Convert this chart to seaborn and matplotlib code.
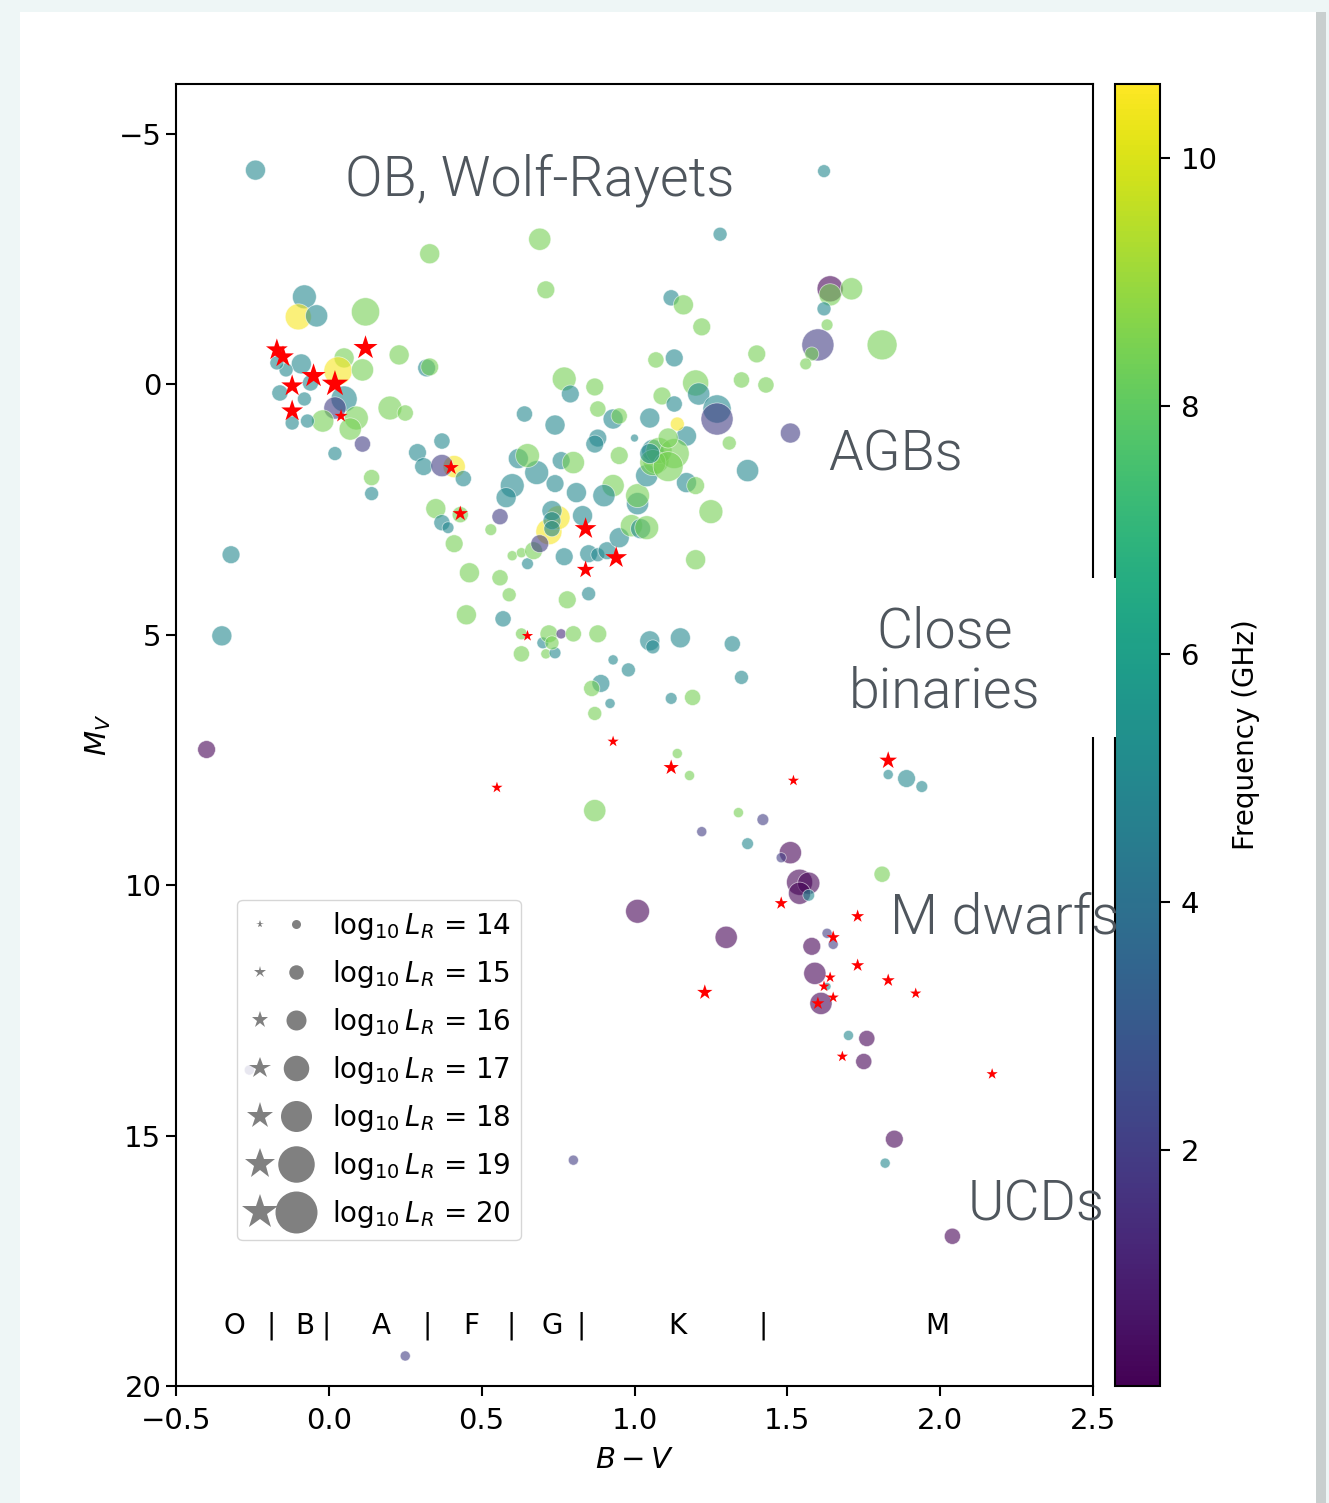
import numpy as np
import pandas as pd
import matplotlib
matplotlib.use("Agg")
import matplotlib.pyplot as plt
import seaborn as sns
from matplotlib.lines import Line2D
from matplotlib.legend_handler import HandlerTuple
from matplotlib.patches import Rectangle
from matplotlib.colors import Normalize
from matplotlib.cm import ScalarMappable

# ---------------- data (circles: radio detections coloured by frequency) ----------------
bv = [-0.24, 1.62, 1.28, 0.69, 0.33, 0.71, -0.08, -0.10, -0.04, 0.12,
      1.12, 1.16, 1.22, 1.64, 1.64, 1.71, 1.62, 1.63, 1.60, 1.58,
      1.56, 1.81, 1.40, 1.35, 1.43, 1.07, 1.13, 1.20, 1.21, 1.27,
      1.27, 1.51, 1.37, 1.25, 1.20, 1.17, 1.14, 1.31, 1.09, 1.13,
      1.05, 1.00, 0.93, 0.95, 0.77, 0.79, 0.87, 0.88, 0.64, 0.74,
      0.88, 0.87, 0.05, 0.03, 0.11, 0.23, 0.32, 0.33, -0.09, -0.14,
      -0.17, -0.16, -0.08, -0.06, 0.05, 0.02, 0.09, -0.02, 0.07, -0.12,
      -0.07, 0.20, 0.25, 0.11, 0.02, 0.37, 0.29, 0.31, 0.14, 0.14,
      -0.32, -0.35, -0.40, 0.41, 0.37, 0.44, 0.35, 0.43, 0.37, 0.39,
      0.41, 0.53, 0.56, 0.46, 0.45, 0.56, 0.59, 0.57, 0.60, 0.63,
      0.65, 0.67, 0.72, 0.75, 0.69, 0.73, 0.73, 0.73, 0.77, 0.78,
      0.85, 0.83, 0.85, 0.88, 0.91, 0.95, 0.99, 1.02, 1.04, 1.01,
      1.01, 0.93, 0.90, 0.81, 0.74, 0.68, 0.62, 0.65, 0.76, 0.80,
      0.60, 0.58, 0.95, 1.04, 1.07, 1.06, 1.17, 1.20, 1.08, 1.13,
      1.11, 1.06, 1.11, 1.05,
      0.63, 0.63, 0.70, 0.71, 0.74, 0.72, 0.73, 0.76, 0.80, 0.88,
      1.05, 1.06, 1.15, 1.32, 0.93, 0.98, 1.35, 0.89, 0.86, 0.92,
      0.87, 1.12, 1.19, 1.14, 1.18, 0.87, 1.83, 1.89, 1.94, 1.34,
      1.42, 1.22, 1.37, 1.51, 1.48, 1.81, 1.54, 1.57, 1.54, 1.57,
      1.01, 1.30, 1.63, 1.65, 1.58, 1.59, 1.63, 1.61, 1.70, 1.76,
      1.75, 1.85, 1.82, 2.04, 0.80, 0.25, -0.26]

mv = [-4.28, -4.26, -3.00, -2.90, -2.61, -1.89, -1.75, -1.35, -1.37, -1.45,
      -1.73, -1.59, -1.15, -1.91, -1.79, -1.91, -1.51, -1.19, -0.79, -0.61,
      -0.41, -0.79, -0.61, -0.09, 0.01, -0.49, -0.53, -0.03, 0.19, 0.49,
      0.69, 0.97, 1.72, 2.54, 3.50, 1.03, 0.79, 1.17, 0.23, 0.39,
      0.67, 1.07, 0.69, 0.63, -0.11, 0.19, 0.05, 0.49, 0.59, 0.81,
      1.07, 1.19, -0.53, -0.27, -0.29, -0.59, -0.33, -0.35, -0.41, -0.29,
      -0.43, 0.17, 0.29, -0.03, 0.29, 0.47, 0.67, 0.73, 0.89, 0.77,
      0.73, 0.47, 0.57, 1.19, 1.38, 1.13, 1.36, 1.64, 1.86, 2.18,
      3.40, 5.02, 7.29, 1.64, 1.62, 1.88, 2.48, 2.60, 2.76, 2.86,
      3.18, 2.90, 2.64, 3.76, 4.60, 3.86, 4.20, 4.68, 3.42, 3.36,
      3.58, 3.32, 2.94, 2.66, 3.18, 2.52, 2.72, 2.88, 3.44, 4.30,
      4.18, 2.62, 3.38, 3.40, 3.32, 3.06, 2.82, 2.88, 2.86, 2.38,
      2.22, 2.02, 2.22, 2.16, 1.98, 1.76, 1.48, 1.42, 1.52, 1.56,
      2.02, 2.26, 1.42, 1.82, 1.52, 1.32, 1.96, 2.02, 1.32, 1.38,
      1.07, 1.56, 1.64, 1.38,
      4.98, 5.38, 5.16, 5.38, 5.36, 4.98, 5.16, 4.98, 4.98, 4.98,
      5.12, 5.24, 5.06, 5.18, 5.50, 5.70, 5.85, 5.97, 6.07, 6.37,
      6.57, 6.27, 6.25, 7.37, 7.81, 8.51, 7.79, 7.87, 8.03, 8.55,
      8.69, 8.93, 9.17, 9.35, 9.45, 9.78, 9.94, 9.96, 10.16, 10.20,
      10.52, 11.04, 10.96, 11.18, 11.22, 11.76, 12.02, 12.36, 13.00, 13.06,
      13.52, 15.07, 15.55, 17.01, 15.49, 19.40, 13.69]

freq = [5, 5, 5, 8.4, 8.4, 8.4, 5, 10.5, 5, 8.4,
        5, 8.4, 8.4, 0.15, 8.4, 8.4, 5, 8.4, 2.0, 8.4,
        8.4, 8.4, 8.4, 8.4, 8.4, 8.4, 5, 8.4, 5, 5,
        2.0, 2.0, 5, 8.4, 8.4, 5, 10.5, 8.4, 8.4, 5,
        5, 5, 5, 8.4, 8.4, 5, 8.4, 8.4, 5, 5,
        5, 5, 8.4, 10.5, 8.4, 8.4, 5, 8.4, 5, 5,
        5, 5, 5, 5, 5, 2.0, 8.4, 8.4, 8.4, 5,
        5, 8.4, 8.4, 2.0, 5, 5, 5, 5, 8.4, 5,
        5, 5, 0.15, 10.5, 2.0, 5, 8.4, 8.4, 5, 5,
        8.4, 8.4, 2.0, 8.4, 8.4, 8.4, 8.4, 5, 8.4, 8.4,
        5, 8.4, 10.5, 10.5, 2.0, 5, 5, 5, 5, 8.4,
        5, 5, 5, 5, 5, 5, 8.4, 5, 8.4, 5,
        8.4, 8.4, 5, 5, 5, 5, 5, 8.4, 5, 8.4,
        5, 5, 8.4, 5, 8.4, 5, 5, 8.4, 8.4, 8.4,
        8.4, 8.4, 8.4, 5,
        8.4, 8.4, 5, 8.4, 5, 8.4, 8.4, 1.4, 8.4, 8.4,
        5, 5, 5, 5, 5, 5, 5, 5, 8.4, 5,
        8.4, 5, 8.4, 8.4, 8.4, 8.4, 5, 5, 5, 8.4,
        2.0, 2.0, 5, 0.15, 2.0, 8.4, 0.15, 0.15, 0.15, 5,
        0.15, 0.15, 2.0, 2.0, 0.15, 0.15, 5, 0.15, 5, 0.15,
        0.15, 0.15, 5, 0.15, 2.0, 2.0, 2.0]

logL = [16.0, 14.7, 14.9, 16.4, 16.0, 15.6, 16.7, 17.1, 16.4, 17.5,
        15.3, 16.0, 15.6, 17.1, 16.4, 16.4, 14.9, 14.5, 18.2, 14.9,
        14.5, 17.8, 15.6, 15.3, 15.3, 15.3, 15.6, 17.1, 16.4, 17.5,
        18.2, 16.0, 16.4, 16.7, 16.0, 16.0, 14.9, 14.9, 15.6, 15.3,
        16.0, 13.8, 16.0, 15.3, 16.7, 15.6, 15.6, 15.3, 15.3, 16.0,
        15.6, 15.6, 16.0, 17.5, 16.4, 16.0, 15.6, 15.6, 16.0, 14.9,
        14.9, 15.3, 14.9, 15.3, 17.1, 16.4, 16.7, 16.4, 16.4, 14.9,
        14.9, 16.7, 15.3, 15.3, 14.9, 15.3, 15.6, 15.6, 15.3, 14.9,
        15.6, 16.0, 15.6, 16.4, 16.4, 15.3, 16.0, 15.3, 15.3, 14.5,
        15.6, 14.5, 15.3, 16.0, 16.0, 15.3, 14.9, 15.3, 14.2, 14.2,
        14.5, 15.6, 17.1, 16.7, 15.6, 16.0, 15.6, 15.3, 15.6, 15.6,
        14.9, 16.0, 15.6, 14.9, 15.6, 16.0, 16.4, 16.0, 16.7, 16.4,
        16.7, 16.4, 16.4, 16.0, 15.6, 16.7, 16.0, 16.7, 15.6, 16.4,
        16.7, 16.0, 15.6, 16.4, 17.1, 16.4, 16.0, 15.6, 17.1, 17.8,
        16.0, 17.1, 17.8, 16.0,
        14.5, 15.3, 14.5, 14.2, 14.5, 15.6, 14.9, 14.2, 15.3, 15.6,
        16.0, 14.9, 16.0, 15.3, 14.2, 14.9, 14.9, 15.6, 15.3, 14.2,
        14.9, 14.5, 15.3, 14.2, 14.2, 16.4, 14.2, 15.6, 14.5, 14.2,
        14.5, 14.2, 14.5, 16.4, 14.2, 15.3, 17.1, 16.4, 16.4, 14.5,
        16.7, 16.4, 14.2, 14.2, 15.6, 16.4, 13.8, 16.4, 14.2, 15.3,
        15.3, 15.6, 14.2, 15.3, 14.2, 14.2, 14.2]

# ---------------- data (red stars) ----------------
star_bv = [-0.17, -0.15, -0.05, -0.12, 0.02, 0.12, -0.12, 0.04, 0.40, 0.43,
           0.84, 0.84, 0.94, 0.65, 0.93, 0.55, 1.12, 1.52, 1.83, 1.48,
           1.73, 1.65, 1.73, 1.64, 1.62, 1.83, 1.92, 1.65, 1.23, 1.60,
           1.68, 2.17]
star_mv = [-0.69, -0.55, -0.17, 0.03, -0.01, -0.73, 0.53, 0.63, 1.66, 2.58,
           2.88, 3.70, 3.46, 5.02, 7.13, 8.05, 7.65, 7.91, 7.51, 10.36,
           10.62, 11.04, 11.60, 11.84, 12.02, 11.90, 12.16, 12.24, 12.14, 12.36,
           13.42, 13.77]
star_logL = [17.1, 17.1, 17.6, 17.1, 18.1, 17.6, 17.1, 15.2, 15.7, 15.7,
             17.1, 16.2, 17.1, 14.8, 14.8, 14.8, 15.7, 14.8, 16.2, 15.2,
             15.2, 15.2, 15.2, 14.8, 14.8, 15.2, 14.8, 14.8, 15.7, 15.2,
             14.8, 14.8]

legend_levels = [14, 15, 16, 17, 18, 19, 20]

spec_labels = ["O", "|", "B", "|", "A", "|", "F", "|", "G", "|", "K", "|", "M"]
spec_x = [-0.31, -0.19, -0.08, -0.01, 0.17, 0.32, 0.465, 0.595, 0.73, 0.825, 1.14, 1.42, 1.99]

region_labels = ["OB, Wolf-Rayets", "AGBs", "Close\nbinaries", "M dwarfs", "UCDs"]

# ---------------- helpers ----------------
W, H = 1329, 1503
FMIN, FMAX = 0.1, 10.6
STAR_SCALE = 0.88


def diam_px(L):
    return 9 + 5.5 * (np.asarray(L, dtype=float) - 14)


def circle_s(L):
    return (diam_px(L) * 0.72) ** 2


def star_s(L):
    return (STAR_SCALE * diam_px(L) * 0.72) ** 2


def fx(px):
    return px / W


def fy(py):
    return 1 - py / H


df = pd.DataFrame({"bv": bv, "mv": mv, "freq": freq, "logL": logL})
df["s"] = circle_s(df["logL"])
sdf = pd.DataFrame({"bv": star_bv, "mv": star_mv, "logL": star_logL})
sdf["s"] = star_s(sdf["logL"])

smin, smax = 1.0, float(circle_s(21))
norm = Normalize(FMIN, FMAX)

plt.rcParams["font.family"] = "DejaVu Sans"
fig = plt.figure(figsize=(W / 100, H / 100), dpi=100, facecolor="#eef6f6")

# slide card background
fig.add_artist(Rectangle((fx(1316), 0), fx(10), fy(12), transform=fig.transFigure,
                         facecolor="#c9cfcf", edgecolor="none", zorder=-11))
fig.add_artist(Rectangle((fx(20), 0), fx(1296), fy(12), transform=fig.transFigure,
                         facecolor="white", edgecolor="none", zorder=-10))

ax = fig.add_axes([fx(176), fy(1386), fx(1093 - 176), (1386 - 84) / H])
cax = fig.add_axes([fx(1115), fy(1386), fx(45), (1386 - 84) / H])

sns.scatterplot(data=df, x="bv", y="mv", hue="freq", palette="viridis", hue_norm=norm,
                size="s", sizes=(smin, smax), size_norm=(smin, smax),
                alpha=0.6, legend=False, ax=ax, zorder=2)
sns.scatterplot(data=sdf, x="bv", y="mv", size="s", sizes=(smin, smax), size_norm=(smin, smax),
                marker="*", color="red", linewidth=0, legend=False, ax=ax, zorder=3)

ax.set_xlim(-0.5, 2.5)
ax.set_ylim(20, -6)
ax.set_xticks(np.arange(-0.5, 2.51, 0.5))
ax.set_yticks([-5, 0, 5, 10, 15, 20])
ax.tick_params(labelsize=21, length=7, width=1.5)
ax.tick_params(axis="x", pad=8)
for sp in ax.spines.values():
    sp.set_linewidth(1.5)
ax.set_xlabel(r"$B-V$", fontsize=21, labelpad=8)
ax.set_ylabel(r"$M_V$", fontsize=21)

for lbl, x in zip(spec_labels, spec_x):
    ax.text(x, 18.8, lbl, ha="center", va="center", fontsize=20)

# colorbar
cb = fig.colorbar(ScalarMappable(norm=norm, cmap="viridis"), cax=cax)
cb.set_ticks([2, 4, 6, 8, 10])
cb.ax.tick_params(labelsize=21, length=7, width=1.5, pad=8)
cb.outline.set_linewidth(1.5)
cb.set_label("Frequency (GHz)", fontsize=20, labelpad=10)

# legend
handles = []
labels = []
for L in legend_levels:
    d = float(diam_px(L)) * 0.72
    h_star = Line2D([], [], marker="*", color="gray", linestyle="none",
                    markersize=STAR_SCALE * d, markeredgewidth=0)
    h_circ = Line2D([], [], marker="o", color="gray", linestyle="none", markersize=d,
                    markeredgewidth=0)
    handles.append((h_star, h_circ))
    labels.append(r"$\log_{10}L_R$ = %d" % L)
leg = ax.legend(handles, labels, handler_map={tuple: HandlerTuple(ndivide=None)},
                loc="lower left", bbox_to_anchor=(0.0665, 0.112), borderaxespad=0,
                fontsize=20, handlelength=2.23, handletextpad=0.83, labelspacing=0.58,
                borderpad=0.36, framealpha=0.8)
leg.set_zorder(10)

# white box behind "Close binaries"
fig.add_artist(Rectangle((fx(835), fy(737)), fx(1116 - 835), (737 - 578) / H,
                         transform=fig.transFigure, facecolor="white", edgecolor="none", zorder=5))

tcol = "#4f565d"
tkw = dict(fontsize=40, color=tcol, family=["Roboto", "DejaVu Sans"], weight=300, zorder=6)
fig.text(fx(540), fy(180), region_labels[0], ha="center", va="center", **tkw)
fig.text(fx(828), fy(455), region_labels[1], ha="left", va="center", **tkw)
fig.text(fx(945), fy(662), region_labels[2], ha="center", va="center", linespacing=1.15,
         multialignment="center", **tkw)
fig.text(fx(890), fy(918), region_labels[3], ha="left", va="center", **tkw)
fig.text(fx(968), fy(1205), region_labels[4], ha="left", va="center", **tkw)

fig.savefig("out.png", dpi=100, facecolor=fig.get_facecolor())
